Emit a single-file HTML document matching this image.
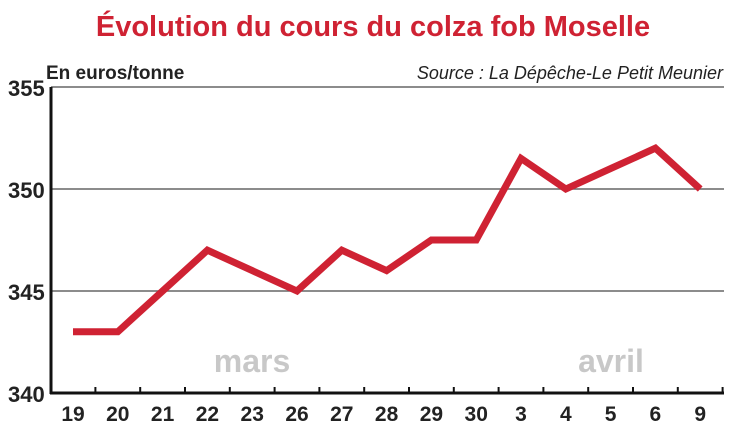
<!DOCTYPE html>
<html><head><meta charset="utf-8"><style>
body{margin:0;background:#fff;width:747px;height:433px;overflow:hidden}
text{font-family:"Liberation Sans Narrow","Liberation Sans",sans-serif}
</style></head><body>
<svg id="chart" width="747" height="433" xmlns="http://www.w3.org/2000/svg">
<text x="373" y="36" text-anchor="middle" font-size="29" font-weight="bold" fill="#cf2233">Évolution du cours du colza fob Moselle</text>
<text x="46" y="79" font-size="19" font-weight="bold" fill="#222">En euros/tonne</text>
<text x="723" y="79" text-anchor="end" font-size="18" font-style="italic" fill="#222">Source : La Dépêche-Le Petit Meunier</text>
<g id="grid"></g>
<text x="252" y="372" text-anchor="middle" font-size="32" font-weight="bold" fill="#c8c8c8">mars</text>
<text x="611" y="372" text-anchor="middle" font-size="32" font-weight="bold" fill="#c8c8c8">avril</text>
<g id="axes"></g>
<g id="series"></g>
</svg>
<script>
const categories=["19","20","21","22","23","26","27","28","29","30","3","4","5","6","9"];
const values=[343,343,345,347,346,345,347,346,347.5,347.5,351.5,350,351,352,350];
const yTicks=[340,345,350,355];
const NS="http://www.w3.org/2000/svg";
const x0=51,x1=724,yb=393,yt=87;
const xs=i=>73+i*44.8;
const ys=v=>yb-(v-340)/15*(yb-yt);
function mk(t,a,p){const e=document.createElementNS(NS,t);for(const k in a)e.setAttribute(k,a[k]);p.appendChild(e);return e;}
const grid=document.getElementById('grid'),axes=document.getElementById('axes'),series=document.getElementById('series');
yTicks.forEach(v=>{
  if(v>340){const l=mk('line',{x1:x0,x2:x1,y1:ys(v),y2:ys(v),stroke:'#666','stroke-width':1.5},grid);
  
  }
  const t=mk('text',{x:8,y:ys(v)+9,'font-size':22,'font-weight':'bold',fill:'#222'},axes);
  t.textContent=v;
  
  
});
const ya=mk('line',{x1:x0,x2:x0,y1:yt,y2:yb+1,stroke:'#111','stroke-width':3},axes);


const xa=mk('line',{x1:x0-1,x2:x1,y1:yb,y2:yb,stroke:'#111','stroke-width':3},axes);


categories.forEach((c,i)=>{
  const tk=mk('line',{x1:xs(i)+22.4,x2:xs(i)+22.4,y1:yb-6,y2:yb,stroke:'#111','stroke-width':2},axes);
  
  
  const t=mk('text',{x:xs(i),y:421,'text-anchor':'middle','font-size':21,'font-weight':'bold',fill:'#222'},axes);
  t.textContent=c;
  
  
});
const pts=values.map((v,i)=>xs(i)+','+ys(v)).join(' ');
const pl=mk('polyline',{points:pts,fill:'none',stroke:'#cf2233','stroke-width':7,'stroke-linejoin':'miter'},series);


</script>
</body></html>
